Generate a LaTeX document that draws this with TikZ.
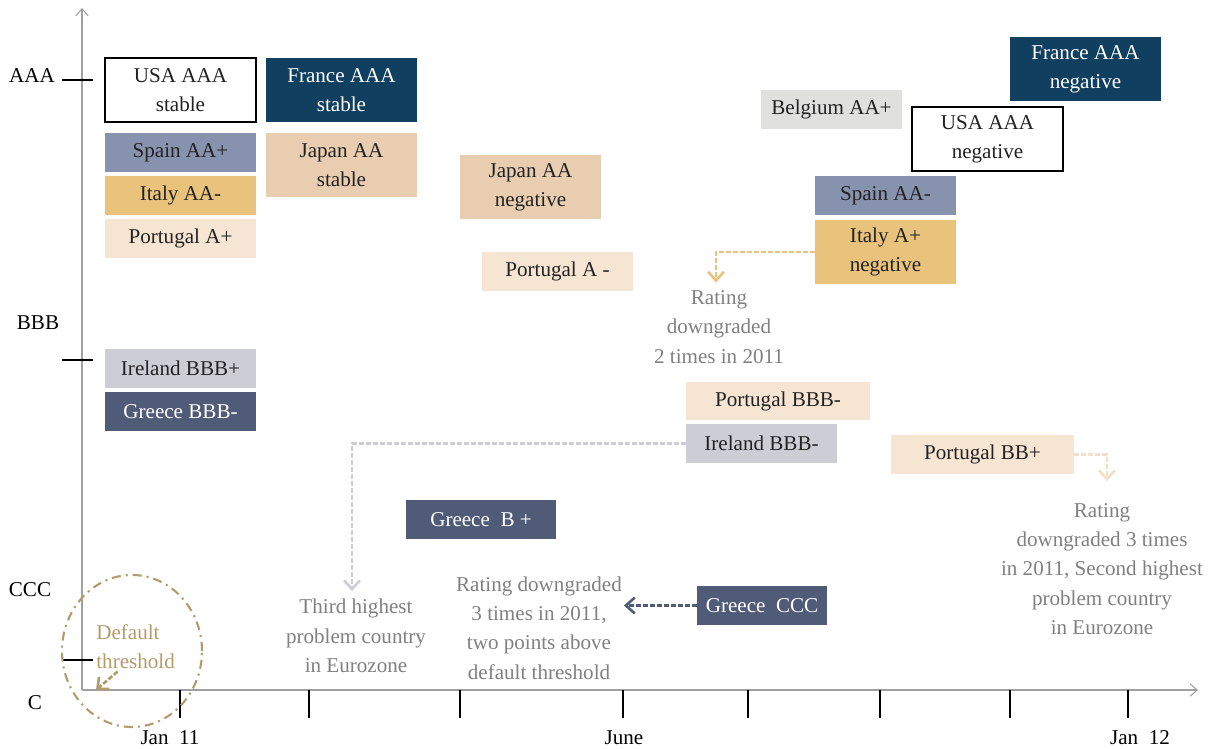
\documentclass[tikz,border=0pt]{standalone}
\usepackage{fontspec}
\setmainfont{Liberation Serif}
\usetikzlibrary{arrows.meta}

\newlength{\px}\setlength{\px}{0.02cm}
\definecolor{navy}{HTML}{103F60}
\definecolor{slate}{HTML}{8793AE}
\definecolor{tan}{HTML}{E8CDB0}
\definecolor{gold}{HTML}{E9C37C}
\definecolor{peach}{HTML}{F6E5D2}
\definecolor{lgray}{HTML}{E0E0DF}
\definecolor{gblue}{HTML}{CDCDD6}
\definecolor{dslate}{HTML}{505B78}
\definecolor{notegray}{HTML}{808080}
\definecolor{thrcol}{HTML}{B39B6C}
\definecolor{axisgray}{HTML}{A0A0A0}
\definecolor{boxtext}{HTML}{222222}

\begin{document}
\begin{tikzpicture}[x=0.02cm, y=-0.02cm, font=\fontsize{12}{16.7}\selectfont,
  box/.style={minimum width=151\px, minimum height=39\px, inner sep=0pt, align=center, text=boxtext},
  tall/.style={minimum height=64\px},
  dark/.style={text=white},
  note/.style={align=center, text=notegray, inner sep=1pt},
  conn/.style={dash pattern=on 5\px off 2\px, line width=1.5pt,
    -{Straight Barb[length=5pt, width=9pt]}},
  axis/.style={axisgray, line width=0.6pt, -{Straight Barb[length=4pt, width=7pt]}}]
  \useasboundingbox (0,0) rectangle (1211,749);

  % axes
  \coordinate (O) at (82,690);
  \coordinate (Ytop) at (82,8);
  \coordinate (Xend) at (1198,690);
  \draw[axis] (O) -- (Ytop);
  \draw[axis] (O) -- (Xend);

  % rating levels
  \foreach \y in {80, 360, 660}
    \draw[line width=0.6pt] (62,\y) -- (93,\y);
  \node at (32,76)  {AAA};
  \node at (38,323) {BBB};
  \node at (30,590) {CCC};
  \node at (35,703) {C};

  % time ticks
  \foreach \x in {180, 309, 460, 623, 748, 880, 1010, 1128}
    \draw[line width=0.6pt] (\x,690) -- (\x,718);
  \node at (170,738)  {Jan~~11};
  \node at (624,738)  {June};
  \node at (1140,738) {Jan~~12};

  % Jan 11
  \node[box, tall, draw, line width=0.6pt, fill=white] (usa1) at (180.5,90) {USA AAA\\stable};
  \node[box, tall, dark, fill=navy] (fra1) at (341.5,90) {France AAA\\stable};
  \node[box, fill=slate] (spa1) at (180.5,152.5) {Spain AA+};
  \node[box, tall, fill=tan] (jap1) at (341.5,165) {Japan AA\\stable};
  \node[box, fill=gold] (ita1) at (180.5,195.5) {Italy AA-};
  \node[box, fill=peach] (por1) at (180.5,238.5) {Portugal A+};
  \node[box, fill=gblue] (ire1) at (180.5,368.5) {Ireland BBB+};
  \node[box, dark, fill=dslate] (gre1) at (180.5,411.5) {Greece BBB-};

  % during 2011
  \node[box, tall, minimum width=141\px, fill=tan] (jap2) at (530.5,187) {Japan AA\\negative};
  \node[box, fill=peach] (por2) at (557.5,271.5) {Portugal A -};
  \node[box, minimum width=150\px, dark, fill=dslate] (gre2) at (481,519.5) {Greece\ \ B +};
  \node[box, minimum width=184\px, minimum height=38\px, fill=peach] (por3) at (778,401) {Portugal BBB-};
  \node[box, fill=gblue] (ire2) at (761.5,443.5) {Ireland BBB-};
  \node[box, minimum width=130\px, dark, fill=dslate] (gre3) at (762,605.5) {Greece\ \ CCC};

  % Jan 12
  \node[box, minimum width=141\px, fill=lgray] (bel) at (831.5,109.5) {Belgium AA+};
  \node[box, tall, dark, fill=navy] (fra2) at (1085.5,69) {France AAA\\negative};
  \node[box, tall, draw, line width=0.6pt, fill=white] (usa2) at (987.5,139) {USA AAA\\negative};
  \node[box, minimum width=141\px, fill=slate] (spa2) at (885.5,195.5) {Spain AA-};
  \node[box, tall, minimum width=141\px, fill=gold] (ita2) at (885.5,252) {Italy A+\\negative};
  \node[box, minimum width=183\px, fill=peach] (por4) at (982.5,454.5) {Portugal BB+};

  % notes
  \node[note] (note1) at (719,327) {Rating\\downgraded\\2 times in 2011};
  \node[note] (note2) at (356,636) {Third highest\\problem country\\in Eurozone};
  \node[note] (note3) at (539,628) {Rating downgraded\\3 times in 2011,\\two points above\\default threshold};
  \node[note] (note4) at (1102,569) {Rating\\downgraded 3 times\\in 2011, Second highest\\problem country\\in Eurozone};

  \draw[conn, gold] (ita2.west) -| ([xshift=-3\px, yshift=6\px]note1.north);
  \draw[conn, gblue] (ire2.west) -| ([xshift=-4\px, yshift=6\px]note2.north);
  \draw[conn, dslate] (gre3.west) -- (note3.east |- gre3.west);
  \draw[conn, peach!75!tan] (por4.east) -| ([xshift=5\px, yshift=20\px]note4.north);

  % default threshold
  \draw[thrcol, line width=1.2pt, dash pattern=on 9\px off 5\px on 2\px off 5\px]
    (132,651) ellipse [x radius=70\px, y radius=76\px];
  \node[align=left, text=thrcol, inner sep=0pt, anchor=west] (thr) at (96,647) {Default\\threshold};
  \draw[conn, thrcol] ([xshift=-18\px, yshift=-2\px]thr.south) -- ([xshift=14\px]O);
\end{tikzpicture}
\end{document}
